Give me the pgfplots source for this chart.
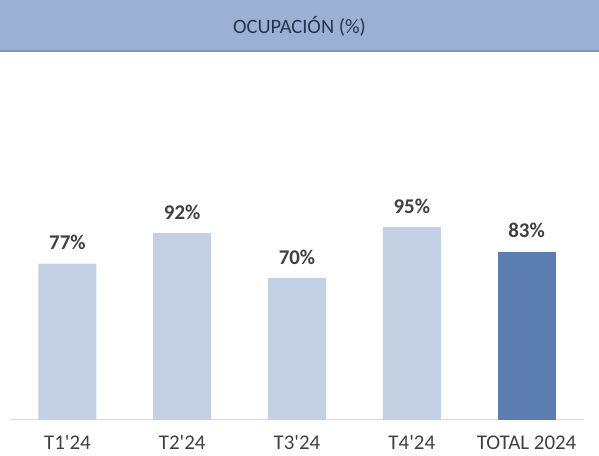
\documentclass[border=0pt]{standalone}
\usepackage{pgfplots}
\pgfplotsset{compat=1.18}
\usepackage{fontspec}
\setmainfont{Carlito}
\newfontfamily\plainfont{Carlito}
\definecolor{titlebar}{RGB}{155,176,211}
\definecolor{titleline}{RGB}{124,148,190}
\definecolor{titletext}{RGB}{38,52,80}
\definecolor{lightbar}{RGB}{196,208,227}
\definecolor{darkbar}{RGB}{91,125,177}
\definecolor{labelgray}{RGB}{64,64,64}
\definecolor{axisgray}{RGB}{217,217,217}
\begin{document}
\begin{tikzpicture}[x=1bp,y=1bp]
\path[use as bounding box] (0,0) rectangle (599,456);
\fill[titlebar] (0,405) rectangle (599,456);
\draw[titleline, line width=1.2bp] (0,405) -- (599,405);
\node[titletext, font=\fontsize{20.5}{24}\selectfont] at (299.5,430) {OCUPACIÓN (\%)};
\begin{axis}[
  at={(10bp,36bp)}, anchor=south west,
  scale only axis,
  width=574bp, height=304.5bp,
  xmin=-0.5, xmax=4.5,
  ymin=0, ymax=150,
  axis x line=bottom,
  axis y line=none,
  x axis line style={axisgray, line width=1bp, -},
  xtick={0,1,2,3,4},
  xticklabels={T1'24,T2'24,T3'24,T4'24,TOTAL 2024},
  major tick length=0pt,
  xticklabel style={labelgray, font=\plainfont\fontsize{21}{24}\selectfont, yshift=-12bp},
  ytick=\empty,
  bar width=58bp,
  /pgf/number format/assume math mode=true,
  nodes near coords={\pgfmathprintnumber{\pgfplotspointmeta}\%},
  nodes near coords style={labelgray, font=\bfseries\fontsize{21}{24}\selectfont, yshift=10bp},
  clip=false,
]
\addplot[ybar, bar shift=0pt, fill=lightbar, draw=none] coordinates {(0,77) (1,92) (2,70) (3,95)};
\addplot[ybar, bar shift=0pt, fill=darkbar, draw=none] coordinates {(4,83)};
\end{axis}
\end{tikzpicture}
\end{document}
